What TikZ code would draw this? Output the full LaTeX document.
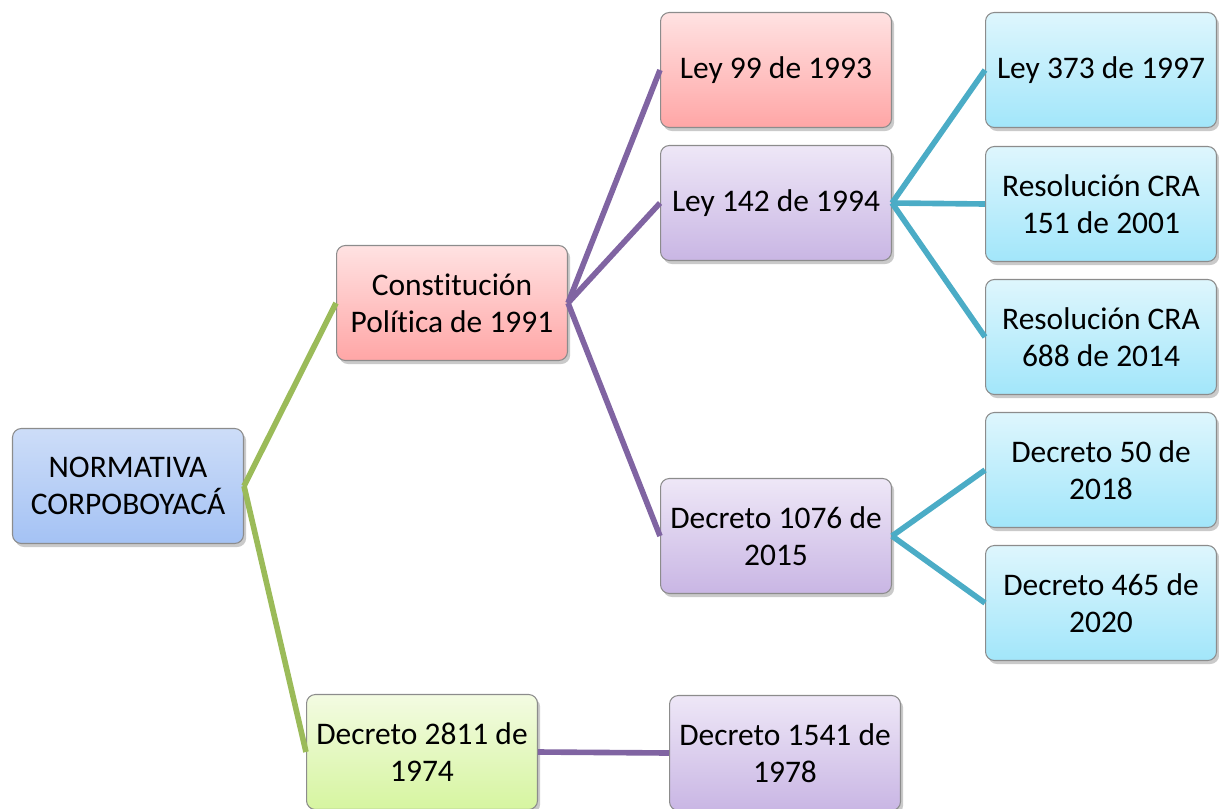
\documentclass[tikz,border=0pt]{standalone}
\usepackage{fontspec}
\setmainfont{Carlito}[Ligatures=NoCommon,RawFeature={-liga;-clig;-dlig}]
\usetikzlibrary{shadows}

\definecolor{lineGreen}{HTML}{9BBB59}
\definecolor{linePurple}{HTML}{8064A2}
\definecolor{lineTeal}{HTML}{4BACC6}

\begin{document}
\begin{tikzpicture}[x=0.02cm,y=-0.02cm,
	box/.style={rectangle,rounded corners=5pt,draw=black!45,line width=0.6pt,minimum width=4.62cm,minimum height=2.3cm,align=center,font=\fontsize{17.9}{21}\selectfont,drop shadow={shadow xshift=1.5pt,shadow yshift=-2pt,opacity=0.35,fill=black!60}},
	blue node/.style={box,top color={rgb,255:red,205;green,221;blue,248},bottom color={rgb,255:red,164;green,194;blue,244}},
	pink node/.style={box,top color={rgb,255:red,255;green,226;blue,226},bottom color={rgb,255:red,255;green,166;blue,166}},
	purple node/.style={box,top color={rgb,255:red,238;green,231;blue,247},bottom color={rgb,255:red,201;green,182;blue,228}},
	cyan node/.style={box,top color={rgb,255:red,222;green,246;blue,253},bottom color={rgb,255:red,162;green,230;blue,250}},
	green node/.style={box,top color={rgb,255:red,243;green,251;blue,226},bottom color={rgb,255:red,214;green,245;blue,160}},
	link/.style={line width=3.2pt}]

	\useasboundingbox (0,0) rectangle (1219,808);

	% level 1
	\node[blue node] (root) at (128,486) {NORMATIVA\\CORPOBOYACÁ};

	% level 2
	\node[pink node] (cp) at (452,303) {Constitución\\Política de 1991};
	\node[green node] (d2811) at (422,752) {Decreto 2811 de\\1974};

	% level 3
	\node[pink node] (l99) at (776,70) {Ley 99 de 1993};
	\node[purple node] (l142) at (776,203) {Ley 142 de 1994};
	\node[purple node] (d1076) at (776,536) {Decreto 1076 de\\2015};
	\node[purple node] (d1541) at (785,753) {Decreto 1541 de\\1978};

	% level 4
	\node[cyan node] (l373) at (1101,70) {Ley 373 de 1997};
	\node[cyan node] (r151) at (1101,204) {Resolución CRA\\151 de 2001};
	\node[cyan node] (r688) at (1101,337) {Resolución CRA\\688 de 2014};
	\node[cyan node] (d50) at (1101,470) {Decreto 50 de\\2018};
	\node[cyan node] (d465) at (1101,603) {Decreto 465 de\\2020};

	\draw[link,lineGreen] (root.east) -- (cp.west);
	\draw[link,lineGreen] (root.east) -- (d2811.west);

	\draw[link,linePurple] (cp.east) -- (l99.west);
	\draw[link,linePurple] (cp.east) -- (l142.west);
	\draw[link,linePurple] (cp.east) -- (d1076.west);
	\draw[link,linePurple] (d2811.east) -- (d1541.west);

	\draw[link,lineTeal] (l142.east) -- (l373.west);
	\draw[link,lineTeal] (l142.east) -- (r151.west);
	\draw[link,lineTeal] (l142.east) -- (r688.west);
	\draw[link,lineTeal] (d1076.east) -- (d50.west);
	\draw[link,lineTeal] (d1076.east) -- (d465.west);
\end{tikzpicture}
\end{document}
